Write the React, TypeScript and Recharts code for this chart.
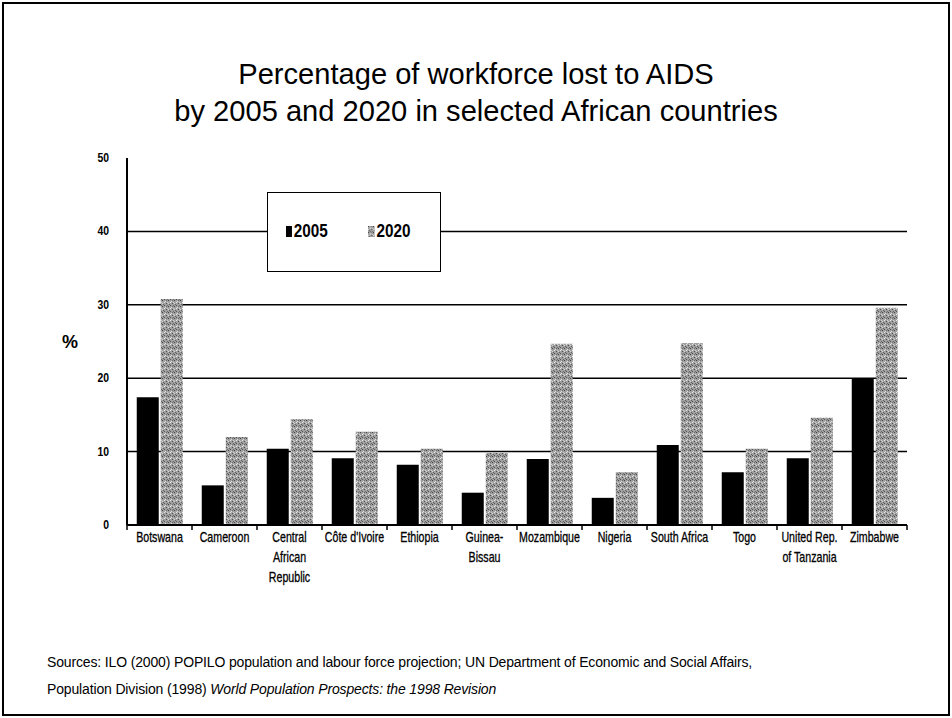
import React from 'react';
import { BarChart, Bar, XAxis, YAxis, CartesianGrid, Legend } from 'recharts';

// country names (\n = line break in the axis label)
const countries = [
  'Botswana',
  'Cameroon',
  'Central\nAfrican\nRepublic',
  "Côte d'Ivoire",
  'Ethiopia',
  'Guinea-\nBissau',
  'Mozambique',
  'Nigeria',
  'South Africa',
  'Togo',
  'United Rep.\nof Tanzania',
  'Zimbabwe',
];
const lost2005 = [17.4, 5.4, 10.4, 9.1, 8.2, 4.4, 9.0, 3.7, 10.9, 7.2, 9.1, 19.9];
const lost2020 = [30.8, 12.0, 14.4, 12.7, 10.4, 9.8, 24.7, 7.2, 24.8, 10.4, 14.6, 29.6];
const yTicks = [0, 10, 20, 30, 40, 50];
const gridValues = [10, 20, 30, 40];

const data = countries.map((c, i) => ({ country: c, y2005: lost2005[i], y2020: lost2020[i] }));

const sans = '"Liberation Sans", Arial, sans-serif';

const CountryTick = (props: any) => {
  const { x, y, payload, index, visibleTicksCount } = props;
  const lines = String(payload.value).split('\n');
  const half = payload.offset || 32.5;
  const last = index === visibleTicksCount - 1;
  return (
    <g>
      <line x1={x - half} x2={x - half} y1={y} y2={y + 5} stroke="#000" strokeWidth={1.5} />
      {last && <line x1={x + half} x2={x + half} y1={y} y2={y + 5} stroke="#000" strokeWidth={1.5} />}
      <g transform={`translate(${x},${y}) scale(0.76,1)`}>
        <text x={0} y={0} textAnchor="middle" fontFamily={sans} fontSize={14} fill="#000" stroke="#000" strokeWidth={0.3}>
          {lines.map((l, i) => (
            <tspan key={i} x={0} dy={i === 0 ? 17 : 20}>
              {l}
            </tspan>
          ))}
        </text>
      </g>
    </g>
  );
};

const YTick = (props: any) => {
  const { x, y, payload } = props;
  return (
    <g transform={`translate(${x},${y}) scale(0.8,1)`}>
      <text x={0} y={0} dy={4} textAnchor="end" fontFamily={sans} fontWeight="bold" fontSize={13} fill="#000">
        {payload.value}
      </text>
    </g>
  );
};

const LegendBox = () => (
  <div
    style={{
      width: 174,
      height: 80,
      boxSizing: 'border-box',
      border: '1.5px solid #000',
      background: '#fff',
      position: 'relative',
      fontFamily: sans,
      fontWeight: 'bold',
      fontSize: 18,
    }}
  >
    <span style={{ position: 'absolute', left: 18, top: 28, display: 'flex', alignItems: 'center', transform: 'scaleX(0.85)', transformOrigin: 'left' }}>
      <span style={{ display: 'inline-block', width: 7, height: 11, background: '#000', marginRight: 2 }} />
      2005
    </span>
    <span style={{ position: 'absolute', left: 100, top: 28, display: 'flex', alignItems: 'center', transform: 'scaleX(0.85)', transformOrigin: 'left' }}>
      <svg width={8} height={11} style={{ marginRight: 2 }}>
        <rect width={8} height={11} fill="url(#speckle)" />
      </svg>
      2020
    </span>
  </div>
);

export default function App() {
  return (
    <div style={{ position: 'absolute', left: 0, top: 0, width: 952, height: 718, background: '#fff' }}>
      <svg width={0} height={0} style={{ position: 'absolute' }}>
        <defs>
          <pattern id="speckle" width={6} height={6} patternUnits="userSpaceOnUse">
            <rect width={6} height={6} fill="#a0a0a0" />
            <rect x={0} y={0} width={1} height={1} fill="#444" />
            <rect x={3} y={1} width={1} height={1} fill="#e0e0e0" />
            <rect x={4} y={3} width={1} height={1} fill="#505050" />
            <rect x={1} y={4} width={1} height={1} fill="#606060" />
            <rect x={2} y={2} width={1} height={1} fill="#ececec" />
            <rect x={5} y={5} width={1} height={1} fill="#6a6a6a" />
            <rect x={0} y={3} width={1} height={1} fill="#d6d6d6" />
            <rect x={4} y={0} width={1} height={1} fill="#707070" />
            <rect x={2} y={5} width={1} height={1} fill="#555" />
            <rect x={5} y={2} width={1} height={1} fill="#cfcfcf" />
          </pattern>
        </defs>
      </svg>
      <div
        style={{
          position: 'absolute',
          left: 2,
          top: 2,
          width: 948,
          height: 714,
          boxSizing: 'border-box',
          border: '2px solid #000',
        }}
      />
      <div
        style={{
          position: 'absolute',
          left: 0,
          top: 55,
          width: 952,
          textAlign: 'center',
          fontFamily: sans,
          fontSize: 30,
          lineHeight: '37px',
          color: '#000',
          transform: 'scaleX(0.97)',
        }}
      >
        Percentage of workforce lost to AIDS
        <br />
        by 2005 and 2020 in selected African countries
      </div>

      <div style={{ position: 'absolute', left: 0, top: 0 }}>
        <BarChart
          width={952}
          height={718}
          data={data}
          margin={{ top: 158, right: 45, left: 87, bottom: 133 }}
          barCategoryGap="15%"
          barGap={2}
        >
          <CartesianGrid vertical={false} horizontalValues={gridValues} stroke="#000" strokeWidth={1.5} />
          <XAxis
            dataKey="country"
            interval={0}
            height={60}
            tickSize={0}
            tickMargin={0}
            tick={<CountryTick />}
            axisLine={{ stroke: '#000', strokeWidth: 2 }}
          />
          <YAxis
            domain={[0, 50]}
            ticks={yTicks}
            width={40}
            tickLine={false}
            tickMargin={12}
            axisLine={{ stroke: '#000', strokeWidth: 2 }}
            tick={<YTick />}
            label={{ value: '%', position: 'left', offset: 9, fill: '#000', fontSize: 18, fontWeight: 'bold', fontFamily: sans }}
          />
          <Legend
            layout="horizontal"
            verticalAlign="middle"
            align="center"
            content={<LegendBox />}
            wrapperStyle={{ top: 192, left: 267, width: 174, height: 80 }}
          />
          <Bar dataKey="y2005" name="2005" fill="#000" isAnimationActive={false} />
          <Bar dataKey="y2020" name="2020" fill="url(#speckle)" isAnimationActive={false} />
        </BarChart>
      </div>

      <div
        style={{
          position: 'absolute',
          left: 47,
          top: 649,
          fontFamily: sans,
          fontSize: 14,
          lineHeight: '27px',
          color: '#000',
          letterSpacing: -0.15,
          whiteSpace: 'nowrap',
        }}
      >
        Sources: ILO (2000) POPILO population and labour force projection; UN Department of Economic and Social Affairs,
        <br />
        Population Division (1998) <i>World Population Prospects: the 1998 Revision</i>
      </div>
    </div>
  );
}
